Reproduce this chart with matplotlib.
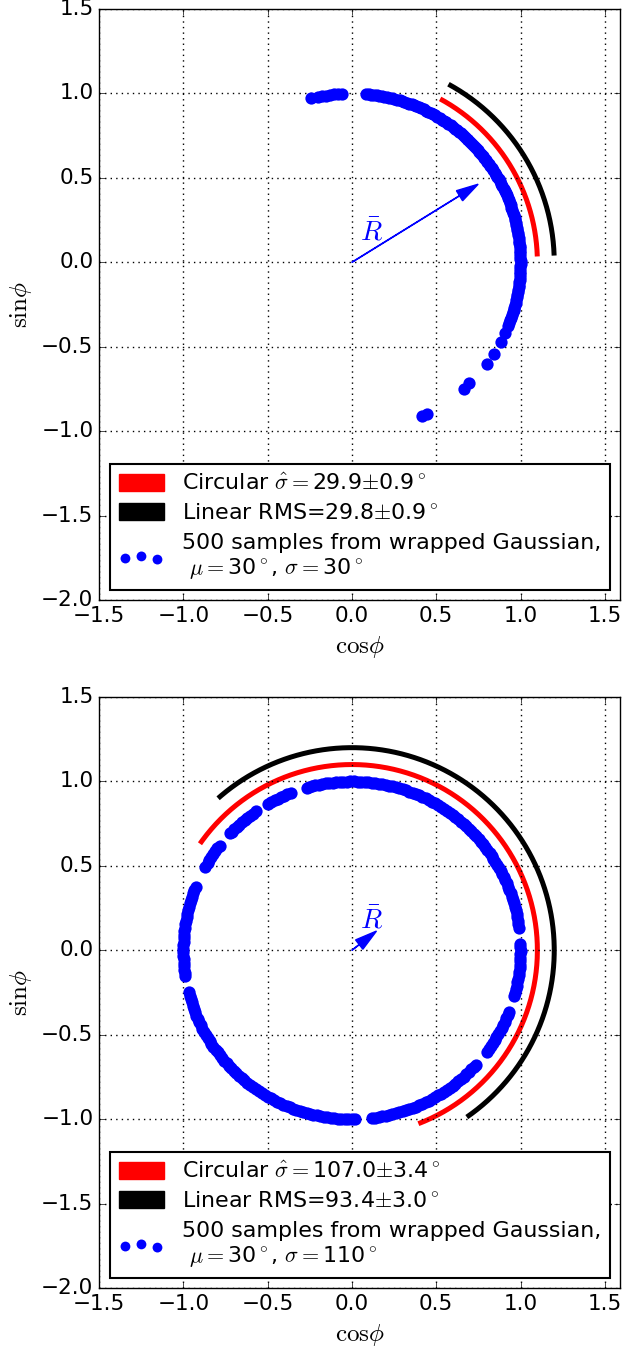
import numpy as np
import matplotlib
matplotlib.use('Agg')
import matplotlib.pyplot as plt
import matplotlib.patches as mpatches

plt.style.use('classic')
plt.rcParams.update({
    'figure.facecolor': 'white',
    'savefig.facecolor': 'white',
    'mathtext.fontset': 'cm',
    'font.family': ['DejaVu Sans'],
    'font.size': 15.5,
    'xtick.labelsize': 15.5,
    'ytick.labelsize': 15.5,
})

# ---- data ----
# sample angles (degrees) visible on the unit circle, top panel (sigma = 30 deg)
angles_top = [104.0, 101.6, 100.3, 99.0, 97.6, 96.2, 94.8, 93.4,
              85.1, 84.2, 83.4, 82.5, 81.6, 80.7, 79.8, 78.9, 78.1, 77.2,
              76.3, 75.4, 74.5, 73.6, 72.8, 71.9, 71.0, 70.1, 69.2, 68.3,
              67.5, 66.6, 65.7, 64.8, 63.9, 63.0, 62.2, 61.3, 60.4, 59.5,
              58.6, 57.7, 56.9, 56.0, 55.1, 54.2, 53.3, 52.4, 51.6, 50.7,
              49.8, 48.9, 48.0, 47.1, 46.3, 45.4, 44.5, 43.6, 42.7, 41.8,
              41.0, 40.1, 39.2, 38.3, 37.4, 36.5, 35.7, 34.8, 33.9, 33.0,
              32.1, 31.2, 30.4, 29.5, 28.6, 27.7, 26.8, 25.9, 25.1, 24.2,
              23.3, 22.4, 21.5, 20.6, 19.8, 18.9, 18.0, 17.1, 16.2, 15.3,
              14.5, 13.6, 12.7, 11.8, 10.9, 10.0, 9.2, 8.3, 7.4, 6.5, 5.6,
              4.7, 3.9, 3.0, 2.1, 1.2, 0.3, -0.6, -1.4, -2.3, -3.2, -4.1,
              -5.0, -5.9, -6.7, -7.6, -8.5, -9.4, -10.3, -11.2, -12.0,
              -12.9, -13.8, -14.7, -15.6, -16.5, -17.3, -18.2, -19.1, -20.0,
              -21.0, -22.0,
              -24.9, -28.0, -32.8, -36.9, -45.8, -48.4, -63.6, -65.4]

# bottom panel (sigma = 110 deg)
angles_bottom = [7.7, 8.9, 10.1, 11.3, 12.5, 13.7, 14.9, 16.1, 17.3, 18.5,
                 19.7, 20.9, 22.1, 23.3, 24.5, 25.7, 26.9, 28.1, 29.3, 30.5,
                 31.7, 32.9, 34.1, 35.3, 36.5, 37.7, 38.9, 40.1, 41.3, 42.5,
                 43.7, 44.9, 46.1, 47.3, 48.5, 49.7, 50.9, 52.1, 53.3, 54.5,
                 55.7, 56.9, 58.1, 59.3, 60.5, 61.7, 62.9, 64.1, 65.3, 66.5,
                 67.7, 68.9, 70.1, 71.3, 72.5, 73.7, 74.9, 76.1, 77.3, 78.5,
                 79.7, 80.9, 82.1, 83.3, 84.5, 85.7, 86.9, 88.1, 89.3, 90.5,
                 91.7, 92.9, 94.1, 95.3, 96.5, 97.7, 98.9, 100.1, 101.3,
                 102.5, 103.7, 104.6, 105.6,
                 111.3, 112.5, 113.7, 114.9, 116.1, 117.3, 118.5, 119.8,
                 124.7, 125.9, 127.1, 128.3, 129.5, 130.7, 131.9, 133.1,
                 134.3, 135.3, 136.2,
                 141.7, 142.9, 144.1, 145.3, 146.5, 147.7, 148.9, 150.4,
                 157.9, 159.1, 160.3, 161.5, 162.7, 163.9, 165.1, 166.3,
                 167.5, 168.7, 169.9, 171.1, 172.3, 173.5, 174.7, 175.9,
                 177.1, 178.3, 179.5, 180.7, 181.9, 183.1, 184.3, 185.5,
                 186.7, 187.7, 188.7,
                 194.4, 195.6, 196.8, 198.0, 199.2, 200.4, 201.6, 202.8,
                 204.0, 205.2, 206.4, 207.6, 208.8, 210.0, 211.2, 212.4,
                 213.6, 214.8, 216.0, 217.2, 218.4, 219.6, 220.8, 222.0,
                 223.2, 224.4, 225.6, 226.8, 228.0, 229.2, 230.4, 231.6,
                 232.8, 234.0, 235.2, 236.4, 237.6, 238.8, 240.0, 241.2,
                 242.4, 243.6, 244.8, 246.0, 247.2, 248.4, 249.6, 250.8,
                 252.0, 253.2, 254.4, 255.6, 256.8, 258.0, 259.2, 260.4,
                 261.6, 262.8, 264.0, 265.2, 266.4, 267.6, 268.8, 270.0, 271.1,
                 -83.3, -82.1, -80.9, -79.7, -78.5, -77.3, -76.1, -74.9,
                 -73.7, -72.5, -71.3, -70.1, -68.9, -67.7, -66.5, -65.3,
                 -64.1, -62.9, -61.7, -60.5, -59.3, -58.1, -56.9, -55.7,
                 -54.5, -53.3, -52.1, -50.9, -49.7, -48.5, -47.3, -46.1,
                 -44.9, -43.8, -42.8,
                 -37.0, -35.8, -34.6, -33.4, -32.2, -31.0, -29.8, -28.6,
                 -27.4, -26.2, -25.0, -23.8, -22.6, -21.6,
                 -15.7, -14.5, -13.3, -12.1, -10.9, -9.7, -8.5, -7.3, -6.1,
                 -4.9, -3.7, -2.5, -1.3, -0.1, 1.0, 2.0]

panel_angles = [angles_top, angles_bottom]
mu_hat = [31.7, 38.0]            # estimated mean direction (deg)
R_bar = [0.88, 0.185]            # mean resultant length
sigma_circ = [29.9, 107.0]
sigma_circ_err = [0.9, 3.4]
sigma_lin = [29.8, 93.4]
sigma_lin_err = [0.9, 3.0]
mu_true = [30, 30]
sigma_true = [30, 110]
n_samples = 500
r_circ = 1.1
r_lin = 1.2

x_ticks = [-1.5, -1.0, -0.5, 0.0, 0.5, 1.0, 1.5]
y_ticks = [-2.0, -1.5, -1.0, -0.5, 0.0, 0.5, 1.0, 1.5]

W, H = 622, 1348
fig = plt.figure(figsize=(W / 100, H / 100), dpi=100)

ax_boxes = [(99, 9, 620, 600), (99, 697, 620, 1288)]

for i in range(2):
    l, t, r, b = ax_boxes[i]
    ax = fig.add_axes([l / W, 1 - b / H, (r - l) / W, (b - t) / H])
    th = np.radians(panel_angles[i])
    sc = ax.scatter(np.cos(th), np.sin(th), s=78, c='#0000ff', lw=0, zorder=3)

    mu = np.radians(mu_hat[i])
    sc_ = np.radians(sigma_circ[i])
    sl_ = np.radians(sigma_lin[i])
    tc = np.linspace(mu - sc_, mu + sc_, 300)
    tl = np.linspace(mu - sl_, mu + sl_, 300)
    ax.plot(r_circ * np.cos(tc), r_circ * np.sin(tc), color='#ff0000', lw=3.6,
            solid_capstyle='butt')
    ax.plot(r_lin * np.cos(tl), r_lin * np.sin(tl), color='k', lw=3.6,
            solid_capstyle='butt')

    ax.arrow(0, 0, R_bar[i] * np.cos(mu), R_bar[i] * np.sin(mu),
             head_width=0.07, head_length=0.13, length_includes_head=True,
             width=0.002, fc='#0000ff', ec='#0000ff', lw=1.0, zorder=4)
    ax.text(0.117, 0.175, r'$\bar{R}$', color='#0000ff', fontsize=20,
            ha='center', va='center')

    ax.set_xlim(-1.5, 1.59)
    ax.set_ylim(-2.0, 1.5)
    ax.set_xticks(x_ticks)
    ax.set_yticks(y_ticks)
    ax.grid(True, color='k', linestyle=':', lw=1.0)
    ax.set_xlabel(r'$\mathrm{cos}\phi$', fontsize=18, labelpad=6)
    ax.set_ylabel(r'$\mathrm{sin}\phi$', fontsize=18, labelpad=5)

    handles = [mpatches.Patch(color='#ff0000'), mpatches.Patch(color='k'), sc]
    labels = [r'Circular $\hat{\sigma}=$%.1f$\pm$%.1f$^\circ$' % (sigma_circ[i], sigma_circ_err[i]),
              r'Linear RMS=%.1f$\pm$%.1f$^\circ$' % (sigma_lin[i], sigma_lin_err[i]),
              '%d samples from wrapped Gaussian,\n $\\mu=$%d$^\\circ$, $\\sigma=$%d$^\\circ$'
              % (n_samples, mu_true[i], sigma_true[i])]
    leg = ax.legend(handles, labels, loc='lower left',
                    bbox_to_anchor=(11 / (r - l), 10 / (b - t)),
                    borderaxespad=0, handlelength=2.05, handleheight=0.8,
                    handletextpad=0.8, fontsize=15.9, scatterpoints=3,
                    labelspacing=0.42, fancybox=False, markerscale=0.8)
    leg.get_frame().set_linewidth(1.5)

fig.savefig('out.png', dpi=100)
